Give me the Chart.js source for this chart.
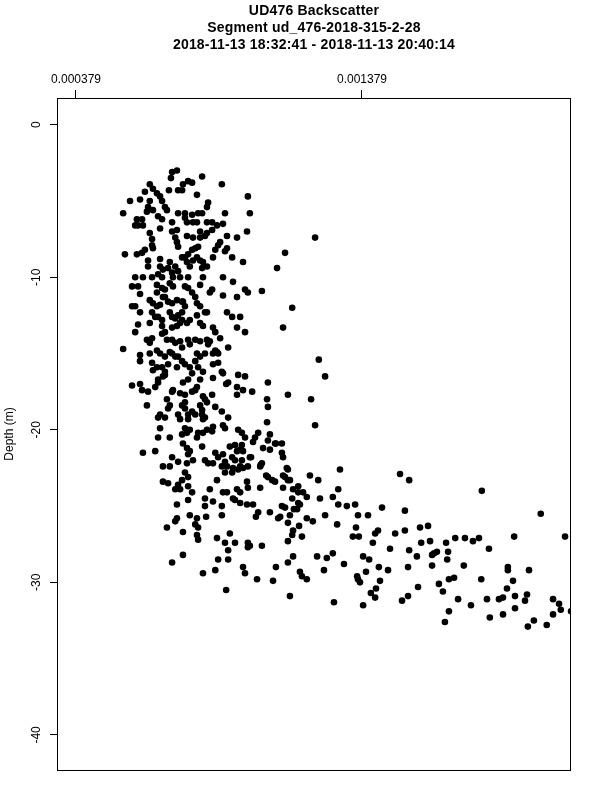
<!DOCTYPE html>
<html><head><meta charset="utf-8">
<script src="https://cdn.jsdelivr.net/npm/chart.js@4.4.0/dist/chart.umd.min.js"></script>
<style>html,body{margin:0;padding:0;background:#fff;}canvas{display:block;}</style>
</head><body>
<canvas id="c" width="600" height="800"></canvas>
<script>
const titleLines = ["UD476 Backscatter", "Segment ud_476-2018-315-2-28", "2018-11-13 18:32:41 - 2018-11-13 20:40:14"];
const yAxisTitle = "Depth (m)";
const xTickValues = [0.000379, 0.001379];
const xTickLabels = ["0.000379", "0.001379"];
const yTickValues = [0, -10, -20, -30, -40];
const yTickLabels = ["0", "-10", "-20", "-30", "-40"];
const xRange = [0.0003126, 0.0021098];
const yRange = [-42.3, 1.75];

const backscatter = [
715e-6,732e-6,711e-6,820e-6,753e-6,771e-6,785e-6,637e-6,889e-6,648e-6,
662e-6,673e-6,620e-6,704e-6,736e-6,750e-6,802e-6,603e-6,568e-6,841e-6,
837e-6,980e-6,680e-6,690e-6,697e-6,637e-6,631e-6,627e-6,648e-6,544e-6,
736e-6,760e-6,785e-6,806e-6,820e-6,900e-6,987e-6,592e-6,586e-6,596e-6,
613e-6,610e-6,666e-6,680e-6,715e-6,760e-6,767e-6,788e-6,802e-6,837e-6,
855e-6,872e-6,893e-6,673e-6,715e-6,732e-6,813e-6,837e-6,855e-6,977e-6,
942e-6,907e-6,637e-6,645e-6,645e-6,648e-6,726e-6,732e-6,736e-6,767e-6,
788e-6,813e-6,830e-6,883e-6,876e-6,806e-6,796e-6,785e-6,771e-6,760e-6,
866e-6,858e-6,907e-6,900e-6,1110e-6,550e-6,592e-6,610e-6,620e-6,925e-6,
963e-6,1082e-6,631e-6,631e-6,673e-6,673e-6,683e-6,701e-6,707e-6,750e-6,
767e-6,777e-6,788e-6,802e-6,813e-6,823e-6,837e-6,820e-6,726e-6,736e-6,
715e-6,718e-6,586e-6,613e-6,645e-6,666e-6,680e-6,743e-6,771e-6,823e-6,
893e-6,928e-6,575e-6,596e-6,662e-6,680e-6,690e-6,707e-6,718e-6,760e-6,
771e-6,785e-6,796e-6,813e-6,855e-6,970e-6,1029e-6,603e-6,586e-6,575e-6,
637e-6,648e-6,662e-6,673e-6,690e-6,701e-6,715e-6,732e-6,750e-6,760e-6,
802e-6,813e-6,893e-6,942e-6,1135e-6,603e-6,645e-6,656e-6,666e-6,680e-6,
707e-6,715e-6,726e-6,736e-6,750e-6,750e-6,743e-6,767e-6,777e-6,802e-6,
837e-6,907e-6,925e-6,953e-6,596e-6,586e-6,637e-6,680e-6,690e-6,715e-6,
732e-6,813e-6,823e-6,858e-6,866e-6,942e-6,970e-6,1103e-6,627e-6,637e-6,
645e-6,680e-6,697e-6,715e-6,726e-6,743e-6,750e-6,771e-6,777e-6,796e-6,
813e-6,837e-6,841e-6,911e-6,544e-6,603e-6,637e-6,662e-6,673e-6,690e-6,
715e-6,726e-6,736e-6,802e-6,813e-6,858e-6,876e-6,980e-6,662e-6,847e-6,
753e-6,683e-6,830e-6,847e-6,883e-6,872e-6,830e-6,707e-6,866e-6,
603e-6,662e-6,648e-6,666e-6,575e-6,603e-6,610e-6,631e-6,656e-6,858e-6,
889e-6,680e-6,690e-6,683e-6,750e-6,760e-6,777e-6,785e-6,771e-6,753e-6,
796e-6,806e-6,813e-6,802e-6,858e-6,911e-6,946e-6,970e-6,942e-6,963e-6,
995e-6,718e-6,743e-6,760e-6,785e-6,823e-6,855e-6,942e-6,645e-6,701e-6,
732e-6,823e-6,876e-6,690e-6,666e-6,715e-6,796e-6,904e-6,893e-6,
627e-6,707e-6,701e-6,750e-6,760e-6,673e-6,690e-6,666e-6,736e-6,743e-6,
771e-6,785e-6,796e-6,771e-6,673e-6,666e-6,707e-6,760e-6,750e-6,767e-6,
777e-6,806e-6,802e-6,753e-6,767e-6,777e-6,771e-6,613e-6,656e-6,715e-6,
736e-6,767e-6,788e-6,683e-6,707e-6,760e-6,750e-6,771e-6,683e-6,701e-6,
736e-6,726e-6,743e-6,771e-6,785e-6,771e-6,732e-6,777e-6,732e-6,813e-6,
820e-6,830e-6,866e-6,889e-6,911e-6,900e-6,823e-6,697e-6,760e-6,837e-6,
820e-6,830e-6,893e-6,858e-6,855e-6,837e-6,823e-6,1047e-6,1050e-6,1047e-6,
946e-6,959e-6,1016e-6,1005e-6,1057e-6,1050e-6,970e-6,998e-6,935e-6,959e-6,
953e-6,963e-6,917e-6,942e-6,1075e-6,1099e-6,1033e-6,1057e-6,820e-6,866e-6,
893e-6,876e-6,900e-6,907e-6,889e-6,900e-6,830e-6,841e-6,858e-6,925e-6,
935e-6,959e-6,987e-6,1099e-6,1103e-6,1029e-6,1023e-6,953e-6,963e-6,980e-6,
928e-6,946e-6,925e-6,1050e-6,1065e-6,1075e-6,1116e-6,1110e-6,1120e-6,872e-6,
847e-6,830e-6,977e-6,980e-6,1023e-6,893e-6,907e-6,928e-6,942e-6,953e-6,
935e-6,1103e-6,1138e-6,1135e-6,1156e-6,858e-6,830e-6,889e-6,998e-6,1016e-6,
1057e-6,1099e-6,1110e-6,1127e-6,1152e-6,1156e-6,889e-6,1093e-6,1044e-6,1103e-6,
1025e-6,1008e-6,
1215e-6,1228e-6,1250e-6,1050e-6,1120e-6,1201e-6,1215e-6,
1302e-6,1197e-6,1226e-6,1156e-6,1173e-6,1186e-6,1232e-6,1277e-6,1296e-6,1296e-6,
1326e-6,1162e-6,1120e-6,1207e-6,1186e-6,1250e-6,1292e-6,1159e-6,1138e-6,1135e-6,
1120e-6,1169e-6,697e-6,726e-6,753e-6,802e-6,796e-6,806e-6,802e-6,806e-6,
872e-6,900e-6,911e-6,917e-6,935e-6,980e-6,980e-6,1029e-6,753e-6,715e-6,
876e-6,911e-6,963e-6,970e-6,866e-6,823e-6,1012e-6,1068e-6,904e-6,1078e-6,
1120e-6,1138e-6,1162e-6,1169e-6,1186e-6,1222e-6,1256e-6,1277e-6,1246e-6,1316e-6,
1127e-6,834e-6,953e-6,977e-6,1086e-6,1512e-6,1544e-6,1798e-6,1355e-6,1449e-6,
1529e-6,1365e-6,1400e-6,1358e-6,1347e-6,1368e-6,1435e-6,1425e-6,1417e-6,1495e-6,
1529e-6,1582e-6,1610e-6,1586e-6,1617e-6,1673e-6,1705e-6,1739e-6,1767e-6,1788e-6,
1823e-6,1911e-6,2004e-6,2089e-6,1477e-6,1544e-6,1383e-6,1404e-6,1438e-6,1470e-6,
1393e-6,1362e-6,1365e-6,1372e-6,1442e-6,1428e-6,1410e-6,1425e-6,1383e-6,1281e-6,
1540e-6,1575e-6,1540e-6,1519e-6,1624e-6,1631e-6,1641e-6,1624e-6,1571e-6,1680e-6,
1677e-6,1648e-6,1662e-6,1683e-6,1701e-6,1735e-6,1760e-6,1715e-6,1683e-6,1669e-6,
1796e-6,1816e-6,1826e-6,1872e-6,1858e-6,1872e-6,1886e-6,1889e-6,1889e-6,1907e-6,
1914e-6,1914e-6,1956e-6,1949e-6,1963e-6,1959e-6,1980e-6,2025e-6,2047e-6,2047e-6,
2068e-6,2074e-6,2110e-6,1078e-6,991e-6,1120e-6,1127e-6,1141e-6,987e-6
];

const depth = [
-3.1,-3.0,-3.5,-3.4,-3.9,-3.7,-3.8,-3.9,-3.9,-4.2,
-4.5,-4.7,-4.4,-4.3,-4.3,-4.3,-4.6,-4.9,-5.0,-5.1,
-5.4,-4.7,-5.0,-5.4,-5.6,-5.0,-5.4,-5.7,-5.6,-5.8,
-5.8,-5.8,-5.9,-5.8,-5.8,-5.8,-5.8,-6.2,-6.6,-6.6,
-6.6,-6.2,-6.0,-6.2,-6.4,-6.1,-6.4,-6.4,-6.4,-6.4,
-6.4,-6.6,-6.5,-6.8,-7.0,-6.9,-7.0,-7.1,-6.9,-7.0,
-7.4,-7.3,-7.1,-7.5,-7.9,-8.1,-7.4,-7.7,-8.0,-7.3,
-7.4,-7.4,-7.3,-7.7,-7.9,-8.0,-8.1,-8.2,-8.5,-8.7,
-8.2,-8.7,-8.1,-8.3,-8.4,-8.5,-8.5,-8.4,-8.2,-8.7,
-9.0,-9.4,-8.9,-9.3,-8.8,-9.3,-9.5,-9.4,-9.0,-8.7,
-9.0,-9.3,-8.9,-8.7,-8.9,-9.0,-9.3,-9.4,-9.3,-9.6,
-9.7,-10.0,-10.0,-10.0,-10.0,-9.8,-10.0,-10.0,-10.0,-10.0,
-10.0,-10.3,-10.6,-10.6,-10.5,-10.7,-10.8,-10.4,-10.6,-10.6,
-10.7,-11.0,-11.3,-10.5,-10.8,-10.8,-10.9,-11.1,-11.9,-11.9,
-11.5,-11.7,-11.9,-11.8,-11.3,-11.6,-11.7,-11.5,-11.6,-11.9,
-11.7,-11.9,-11.2,-11.3,-12.0,-12.3,-12.3,-12.6,-12.6,-12.8,
-12.3,-12.6,-12.7,-12.5,-12.3,-12.8,-13.0,-13.0,-12.8,-12.5,
-12.3,-12.3,-12.6,-12.6,-13.1,-13.6,-13.0,-13.2,-13.6,-13.3,
-13.2,-13.0,-13.2,-13.3,-13.6,-13.3,-13.6,-13.3,-14.1,-14.3,
-14.0,-13.7,-14.1,-14.1,-14.3,-14.2,-14.6,-14.1,-14.4,-14.1,
-14.2,-14.1,-14.4,-14.6,-14.7,-15.1,-15.0,-14.8,-15.0,-15.2,
-15.0,-15.2,-15.2,-15.0,-15.2,-15.0,-15.0,-11.0,-11.0,-11.0,
-11.6,-11.3,-12.3,-14.2,-14.0,-14.9,-15.0,-14.9,-14.8,
-15.5,-15.9,-16.1,-16.7,-17.1,-17.0,-17.4,-17.5,-17.2,-15.7,
-16.2,-15.9,-16.2,-16.5,-15.5,-15.7,-15.9,-16.3,-16.7,-16.9,
-15.5,-15.9,-16.7,-17.2,-16.6,-16.9,-16.4,-16.5,-17.2,-17.4,
-17.5,-17.4,-17.6,-17.7,-17.5,-17.8,-17.7,-17.7,-15.6,-15.7,
-15.9,-16.2,-15.6,-16.4,-16.9,-17.5,-17.4,-17.0,-16.3,
-18.4,-18.4,-18.6,-18.4,-18.6,-19.0,-19.2,-19.2,-19.0,-19.3,
-19.0,-18.8,-19.0,-19.3,-19.9,-20.5,-20.5,-19.9,-20.3,-20.2,
-20.0,-20.2,-20.5,-20.9,-21.2,-21.4,-21.6,-21.5,-21.4,-21.8,
-22.1,-22.2,-22.0,-22.4,-22.4,-22.8,-23.3,-23.1,-23.4,-23.5,
-23.6,-23.9,-23.9,-23.7,-24.1,-24.6,-24.9,-25.6,-25.8,-18.4,
-18.7,-18.0,-18.5,-18.8,-19.2,-19.9,-19.3,-18.0,-18.2,-18.2,
-19.0,-19.2,-19.7,-19.8,-20.1,-20.0,-20.2,-18.0,-18.5,-19.5,
-20.0,-20.2,-20.2,-20.5,-20.3,-20.7,-20.5,-20.8,-21.0,-21.0,
-21.3,-21.4,-21.1,-21.4,-20.9,-20.9,-21.2,-21.3,-21.1,-21.5,
-21.6,-21.8,-22.1,-22.4,-22.4,-22.8,-22.0,-22.2,-22.2,-21.8,
-22.0,-22.0,-21.8,-21.5,-21.8,-22.2,-22.4,-22.4,-22.5,-22.4,
-22.5,-22.6,-22.8,-23.1,-23.3,-23.4,-22.5,-23.1,-23.3,-23.3,
-23.9,-24.5,-23.4,-23.8,-23.8,-24.1,-24.1,-24.5,-23.9,-24.1,
-24.6,-23.8,-23.9,-24.5,-24.1,-24.7,-25.0,-25.0,-24.9,-25.4,
-25.4,-25.0,-25.1,-25.6,-25.2,-24.8,-25.6,-25.7,-23.0,-23.0,
-22.3,-25.7,
-7.4,-15.4,-16.5,-16.9,-17.7,-18.0,-19.7,
-22.6,-23.0,-23.3,-23.7,-24.1,-24.4,-24.5,-24.4,-23.9,-24.9,
-25.0,-24.9,-26.1,-26.0,-25.8,-25.6,-26.2,-26.3,-26.6,-26.9,
-27.3,-27.0,-26.4,-26.0,-26.7,-25.8,-26.2,-26.4,-26.9,-27.2,
-27.1,-27.4,-27.9,-26.8,-27.4,-27.4,-27.7,-27.6,-28.2,-28.7,
-28.5,-28.5,-29.0,-29.4,-29.2,-29.4,-29.8,-29.9,-30.5,-29.0,
-28.7,-28.3,-29.3,-29.6,-29.8,-28.3,-28.4,-28.1,-29.2,-28.8,
-30.9,-25.7,-24.8,-24.9,-25.8,-22.9,-23.3,-24.0,-24.9,-25.1,
-25.3,-25.6,-25.6,-26.4,-27.0,-27.0,-26.6,-26.8,-27.4,-26.8,
-26.6,-26.4,-26.3,-27.4,-27.3,-27.4,-27.1,-27.1,-27.3,-27.1,
-27.8,-27.0,-25.5,-27.0,-27.8,-27.9,-28.3,-28.5,-29.0,-29.2,
-29.3,-29.6,-29.8,-30.0,-29.9,-30.4,-30.7,-31.0,-31.5,-31.3,
-29.0,-30.3,-30.9,-31.2,-28.2,-28.1,-28.0,-28.9,-28.3,-28.0,
-28.5,-30.1,-30.6,-29.8,-29.7,-28.9,-31.5,-31.1,-31.9,-32.6,
-29.8,-31.1,-32.3,-32.1,-31.1,-31.0,-30.4,-29.0,-29.2,-29.9,
-30.9,-31.7,-30.8,-31.2,-29.2,-32.9,-32.5,-32.8,-32.1,-31.1,
-31.4,-31.8,-31.9,-20.9,-21.8,-22.6,-23.3,-25.2,-27.6
];

const FONT = "'Liberation Sans', Arial, Helvetica, sans-serif";
const n = Math.min(backscatter.length, depth.length);
const points = [];
for (let i = 0; i < n; i++) points.push({x: backscatter[i], y: depth[i]});

const framePlugin = {
  id: 'frame',
  afterDraw(chart) {
    const ctx = chart.ctx, a = chart.chartArea;
    ctx.save();
    ctx.strokeStyle = '#000';
    ctx.lineWidth = 1;
    ctx.strokeRect(Math.round(a.left) + 0.5, Math.round(a.top) + 0.5,
                   Math.round(a.right - a.left) - 1, Math.round(a.bottom - a.top));
    const ys = chart.scales.y;
    ctx.fillStyle = '#000';
    ctx.font = '12px ' + FONT;
    ctx.textAlign = 'center';
    ctx.textBaseline = 'middle';
    yTickValues.forEach((v, i) => {
      const py = ys.getPixelForValue(v);
      ctx.save();
      ctx.translate(37, py);
      ctx.rotate(-Math.PI / 2);
      ctx.fillText(yTickLabels[i], 0, 0);
      ctx.restore();
    });
    ctx.save();
    ctx.translate(10, (a.top + a.bottom) / 2);
    ctx.rotate(-Math.PI / 2);
    ctx.fillText(yAxisTitle, 0, 0);
    ctx.restore();
    ctx.font = 'bold 14px ' + FONT;
    try { ctx.letterSpacing = '0.2px'; } catch (e) {}
    const cx = (a.left + a.right) / 2;
    const ty = [11, 28, 45];
    titleLines.forEach((t, i) => ctx.fillText(t, cx, ty[i]));
    ctx.restore();
  }
};

new Chart(document.getElementById('c'), {
  type: 'scatter',
  data: {
    datasets: [{
      data: points,
      backgroundColor: '#000',
      borderColor: '#000',
      borderWidth: 0,
      pointRadius: 3.3,
      pointHoverRadius: 3.3,
      clip: 0
    }]
  },
  options: {
    responsive: false,
    devicePixelRatio: 1,
    animation: false,
    events: [],
    layout: {padding: {left: 0, top: 0, right: 29, bottom: 30}},
    plugins: {legend: {display: false}, tooltip: {enabled: false}, title: {display: false}},
    scales: {
      x: {
        type: 'linear',
        position: 'top',
        min: xRange[0],
        max: xRange[1],
        afterBuildTicks: (s) => { s.ticks = xTickValues.map(v => ({value: v})); },
        afterFit: (s) => { s.height = 98; },
        ticks: {
          autoSkip: false, maxRotation: 0, minRotation: 0,
          color: '#000', font: {family: FONT, size: 12}, padding: 3,
          callback: (v) => { const i = xTickValues.indexOf(v); return i >= 0 ? xTickLabels[i] : ''; }
        },
        grid: {display: true, drawOnChartArea: false, drawTicks: true, tickLength: 8, color: '#000', lineWidth: 1},
        border: {display: false}
      },
      y: {
        type: 'linear',
        position: 'left',
        min: yRange[0],
        max: yRange[1],
        afterBuildTicks: (s) => { s.ticks = yTickValues.map(v => ({value: v})); },
        afterFit: (s) => { s.width = 57; },
        ticks: {display: false},
        grid: {display: true, drawOnChartArea: false, drawTicks: true, tickLength: 7, color: '#000', lineWidth: 1},
        border: {display: false}
      }
    }
  },
  plugins: [framePlugin]
});
</script>
</body></html>
